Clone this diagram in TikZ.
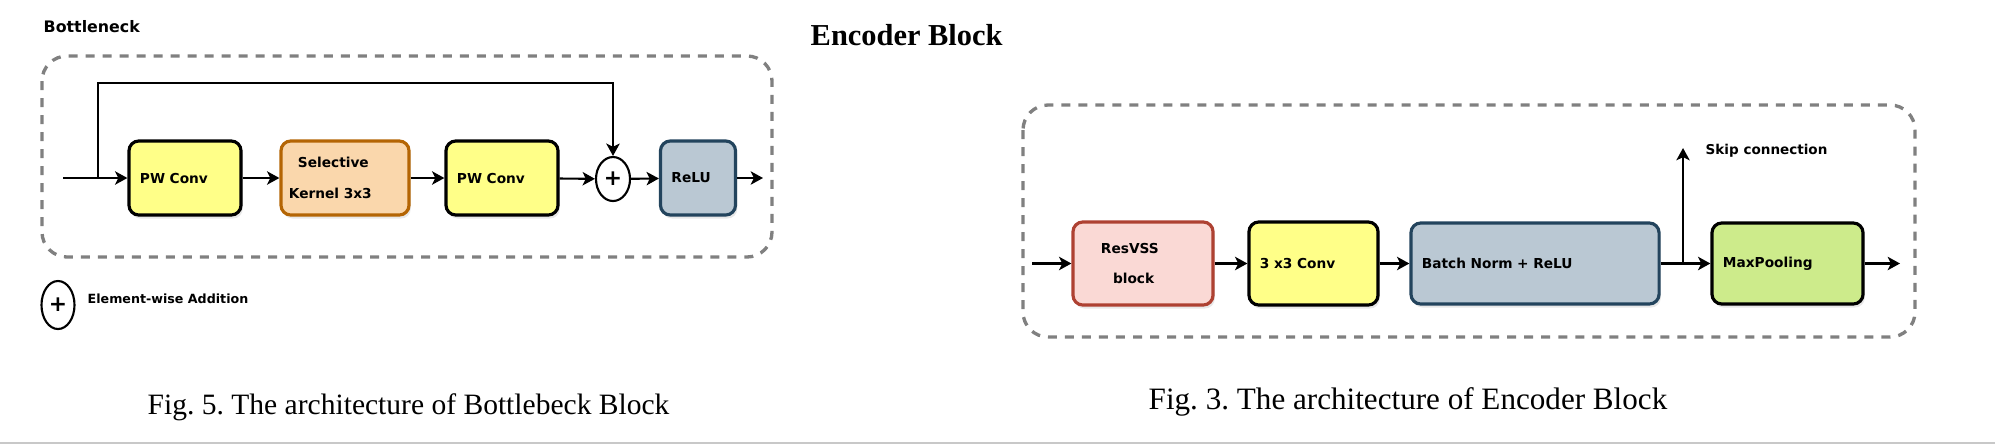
\documentclass[tikz,border=0pt]{standalone}
\usepackage{fontspec}
\usetikzlibrary{arrows.meta,shapes.geometric,shadows,positioning}
\newfontfamily\boxfont{DejaVu Sans}
\newfontfamily\capfont{Liberation Serif}
\definecolor{convyellow}{HTML}{FFFF88}
\definecolor{skpeach}{HTML}{FAD7AC}
\definecolor{skbrown}{HTML}{B46504}
\definecolor{normblue}{HTML}{BAC8D3}
\definecolor{normdark}{HTML}{23445D}
\definecolor{vsspink}{HTML}{FAD9D5}
\definecolor{vssred}{HTML}{AE4132}
\definecolor{poolgreen}{HTML}{CDEB8B}
\definecolor{framegray}{HTML}{808080}
\definecolor{rulegray}{HTML}{C8C8C8}
\frenchspacing

\begin{document}
\begin{tikzpicture}[x=0.01cm,y=-0.01cm,
    blk/.style={draw,line width=0.9pt,rounded corners=2.8pt,inner xsep=0.11cm,inner ysep=0pt,
      align=left,minimum height=0.74cm,font=\boxfont\bfseries\fontsize{3.9pt}{8.6pt}\selectfont,
      drop shadow={shadow xshift=0.5pt,shadow yshift=-1pt,opacity=0.18}},
    flow/.style={-{Stealth[length=3.5pt,width=3.8pt,inset=0.9pt]},line width=0.6pt},
    addop/.style={ellipse,draw,line width=0.6pt,minimum width=0.34cm,minimum height=0.44cm,
      inner sep=0pt,font=\boxfont\bfseries\fontsize{6.2pt}{6.5pt}\selectfont},
    frame/.style={draw=framegray,line width=0.95pt,dash pattern=on 0.09cm off 0.08cm,
      rounded corners=0.25cm},
    lbl/.style={inner sep=0pt,anchor=base west,font=\boxfont\bfseries\fontsize{3.85pt}{4.5pt}\selectfont},
    figcap/.style={inner sep=0pt,anchor=base west,font=\capfont\fontsize{8.4pt}{10pt}\selectfont}]
  \useasboundingbox (0,0) rectangle (1995,445);

  % bottleneck block
  \node[lbl,font=\boxfont\bfseries\fontsize{4.5pt}{5pt}\selectfont] (bntitle) at (43,32) {Bottleneck};
  \draw[frame] (42,56) rectangle (772,257);
  \coordinate (in1) at (63,178);
  \coordinate (split1) at (98,178);
  \coordinate (top1) at (98,83);
  \node[blk,fill=convyellow,text width=0.90cm] (pw1) at (185,178) {PW Conv};
  \node[blk,fill=skpeach,draw=skbrown,inner xsep=0.08cm,text width=1.12cm] (sk) at (345,178)
    {\hspace*{0.09cm}Selective\\Kernel 3x3};
  \node[blk,fill=convyellow,text width=0.90cm] (pw2) at (502,178) {PW Conv};
  \node[addop] (add) at (613,179) {+};
  \node[blk,fill=normblue,draw=normdark,text width=0.53cm] (relu) at (698,178) {ReLU};
  \coordinate (out1) at (763,178);
  \draw[line width=0.6pt] (in1) -- (split1);
  \draw[flow] (split1) -- (pw1);
  \draw[flow] (split1) -- (top1) -| (add);
  \draw[flow] (pw1) -- (sk);
  \draw[flow] (sk) -- (pw2);
  \draw[flow] (pw2) -- (add);
  \draw[flow] (add) -- (relu);
  \draw[flow] (relu) -- (out1);

  % legend
  \node[addop,minimum height=0.48cm,minimum width=0.33cm] (legadd) at (58,305) {+};
  \node[lbl,font=\boxfont\bfseries\fontsize{3.6pt}{4.5pt}\selectfont] (legtxt) at (87,303) {Element-wise Addition};
  \node[figcap] (cap1) at (147,414) {Fig. 5. The architecture of Bottlebeck Block};

  % encoder block
  \node[figcap,font=\capfont\bfseries\fontsize{8.65pt}{10pt}\selectfont] (enctitle) at (810,45) {Encoder Block};
  \draw[frame] (1023,105) rectangle (1915,337);
  \coordinate (in2) at (1032,263.5);
  \node[blk,fill=vsspink,draw=vssred,minimum height=0.83cm,inner xsep=0.28cm,text width=0.84cm]
    (vss) at (1143,263.5) {ResVSS\\\hspace*{0.12cm}block};
  \node[blk,fill=convyellow,minimum height=0.83cm,text width=1.07cm] (conv) at (1313.5,263.5) {3 x3 Conv};
  \node[blk,fill=normblue,draw=normdark,minimum height=0.81cm,text width=2.26cm] (bnr) at (1535,263.5)
    {Batch Norm + ReLU};
  \node[blk,fill=poolgreen,minimum height=0.81cm,text width=1.29cm] (pool) at (1787.5,263.5) {MaxPooling};
  \coordinate (split2) at (1683,263.5);
  \coordinate (skipend) at (1683,148);
  \coordinate (out2) at (1900,263.5);
  \node[lbl] (skiptxt) at (1705,154) {Skip connection};
  \draw[flow] (in2) -- (vss);
  \draw[flow] (vss) -- (conv);
  \draw[flow] (conv) -- (bnr);
  \draw[line width=0.6pt] (bnr) -- (split2);
  \draw[flow] (split2) -- (pool);
  \draw[flow] (split2) -- (skipend);
  \draw[flow] (pool) -- (out2);
  \node[figcap,font=\capfont\fontsize{8.85pt}{10pt}\selectfont] (cap2) at (1148,409)
    {Fig. 3. The architecture of Encoder Block};

  \draw[line width=0.6pt,draw=rulegray] (0,443) -- (1995,443);
\end{tikzpicture}
\end{document}
